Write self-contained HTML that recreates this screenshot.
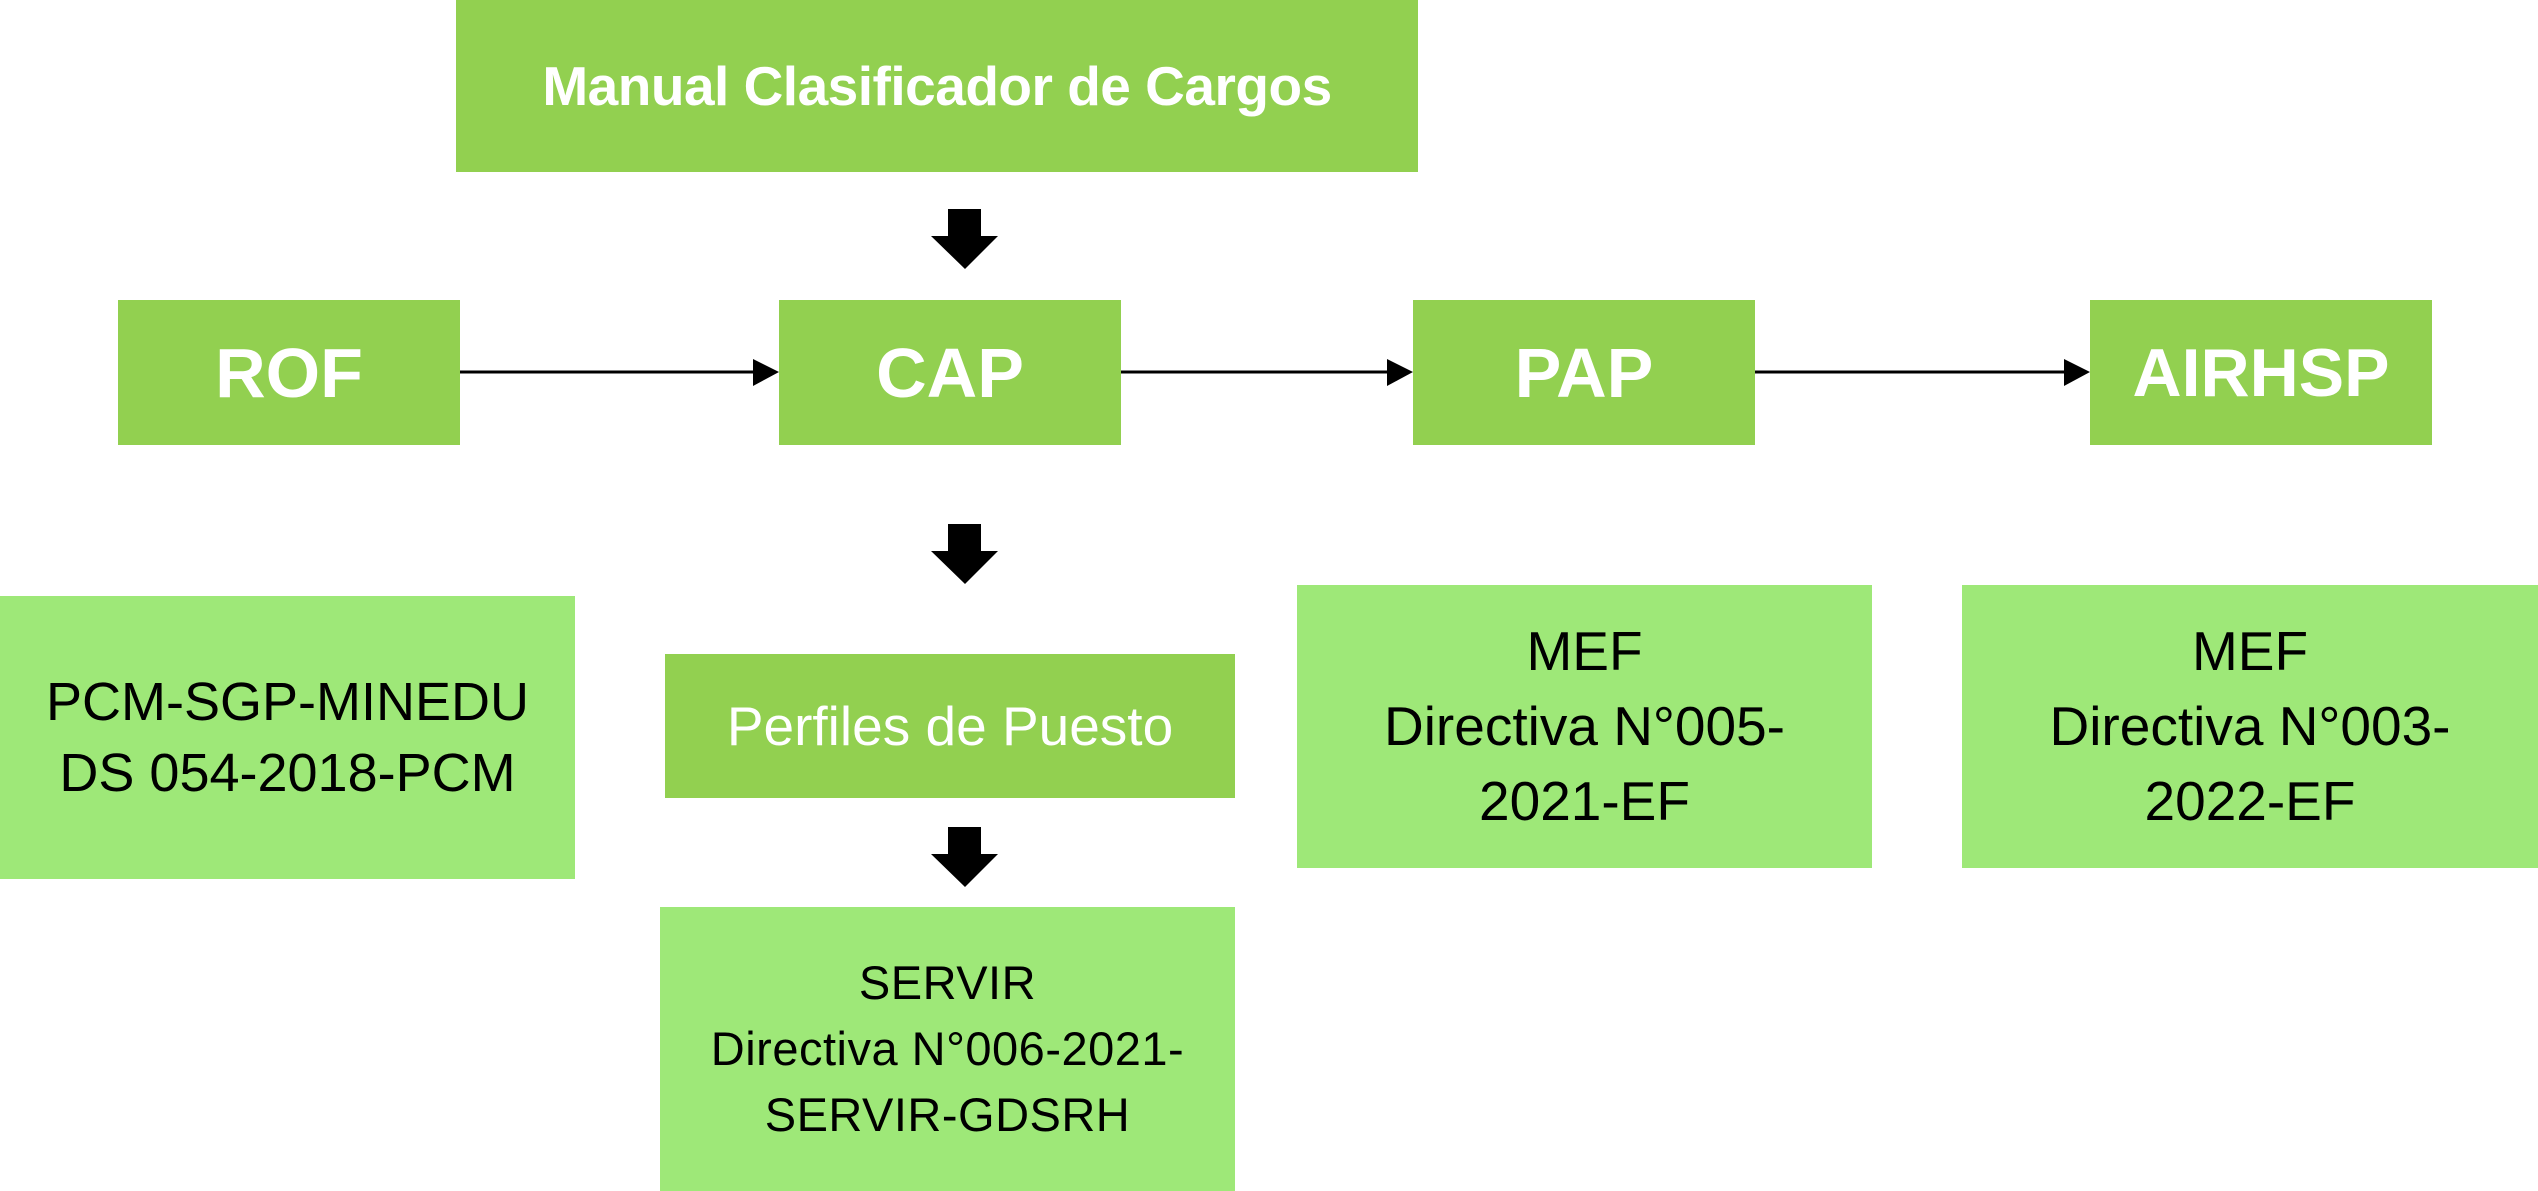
<!DOCTYPE html>
<html><head><meta charset="utf-8"><style>
html,body{margin:0;padding:0;background:#fff;}
body{width:2538px;height:1191px;position:relative;overflow:hidden;font-family:"Liberation Sans",sans-serif;}
.b{position:absolute;display:flex;align-items:center;justify-content:center;text-align:center;}
.d{background:#92D050;color:#fff;font-weight:bold;}
.l{background:#9EE878;color:#000;}
</style></head><body>
<div class="b d" style="left:456px;top:0;width:962px;height:172px;font-size:55px;letter-spacing:-0.5px;">Manual Clasificador de Cargos</div>
<div class="b d" style="left:118px;top:300px;width:342px;height:145px;font-size:70px;">ROF</div>
<div class="b d" style="left:779px;top:300px;width:342px;height:145px;font-size:70px;">CAP</div>
<div class="b d" style="left:1413px;top:300px;width:342px;height:145px;font-size:70px;">PAP</div>
<div class="b d" style="left:2090px;top:300px;width:342px;height:145px;font-size:68px;">AIRHSP</div>
<div class="b l" style="left:0;top:596px;width:575px;height:283px;font-size:54px;line-height:71px;">PCM-SGP-MINEDU<br>DS 054-2018-PCM</div>
<div class="b d" style="left:665px;top:654px;width:570px;height:144px;font-size:55px;font-weight:normal;">Perfiles de Puesto</div>
<div class="b l" style="left:660px;top:907px;width:575px;height:284px;font-size:47px;line-height:66px;letter-spacing:0.5px;">SERVIR<br>Directiva N°006-2021-<br>SERVIR-GDSRH</div>
<div class="b l" style="left:1297px;top:585px;width:575px;height:283px;font-size:55px;line-height:75px;">MEF<br>Directiva N°005-<br>2021-EF</div>
<div class="b l" style="left:1962px;top:585px;width:576px;height:283px;font-size:55px;line-height:75px;">MEF<br>Directiva N°003-<br>2022-EF</div>
<svg width="2538" height="1191" style="position:absolute;left:0;top:0">
<g fill="#000">
<polygon points="948,209 981,209 981,236 998,236 965,269 931,236 948,236"/>
<polygon points="948,524 981,524 981,551 998,551 965,584 931,551 948,551"/>
<polygon points="948,827 981,827 981,854 998,854 965,887 931,854 948,854"/>
<polygon points="753,359 779,372 753,386"/>
<polygon points="1387,359 1413,372 1387,386"/>
<polygon points="2064,359 2090,372 2064,386"/>
</g>
<g stroke="#000" stroke-width="3">
<line x1="460" y1="372" x2="755" y2="372"/>
<line x1="1121" y1="372" x2="1389" y2="372"/>
<line x1="1755" y1="372" x2="2066" y2="372"/>
</g>
</svg>
</body></html>
